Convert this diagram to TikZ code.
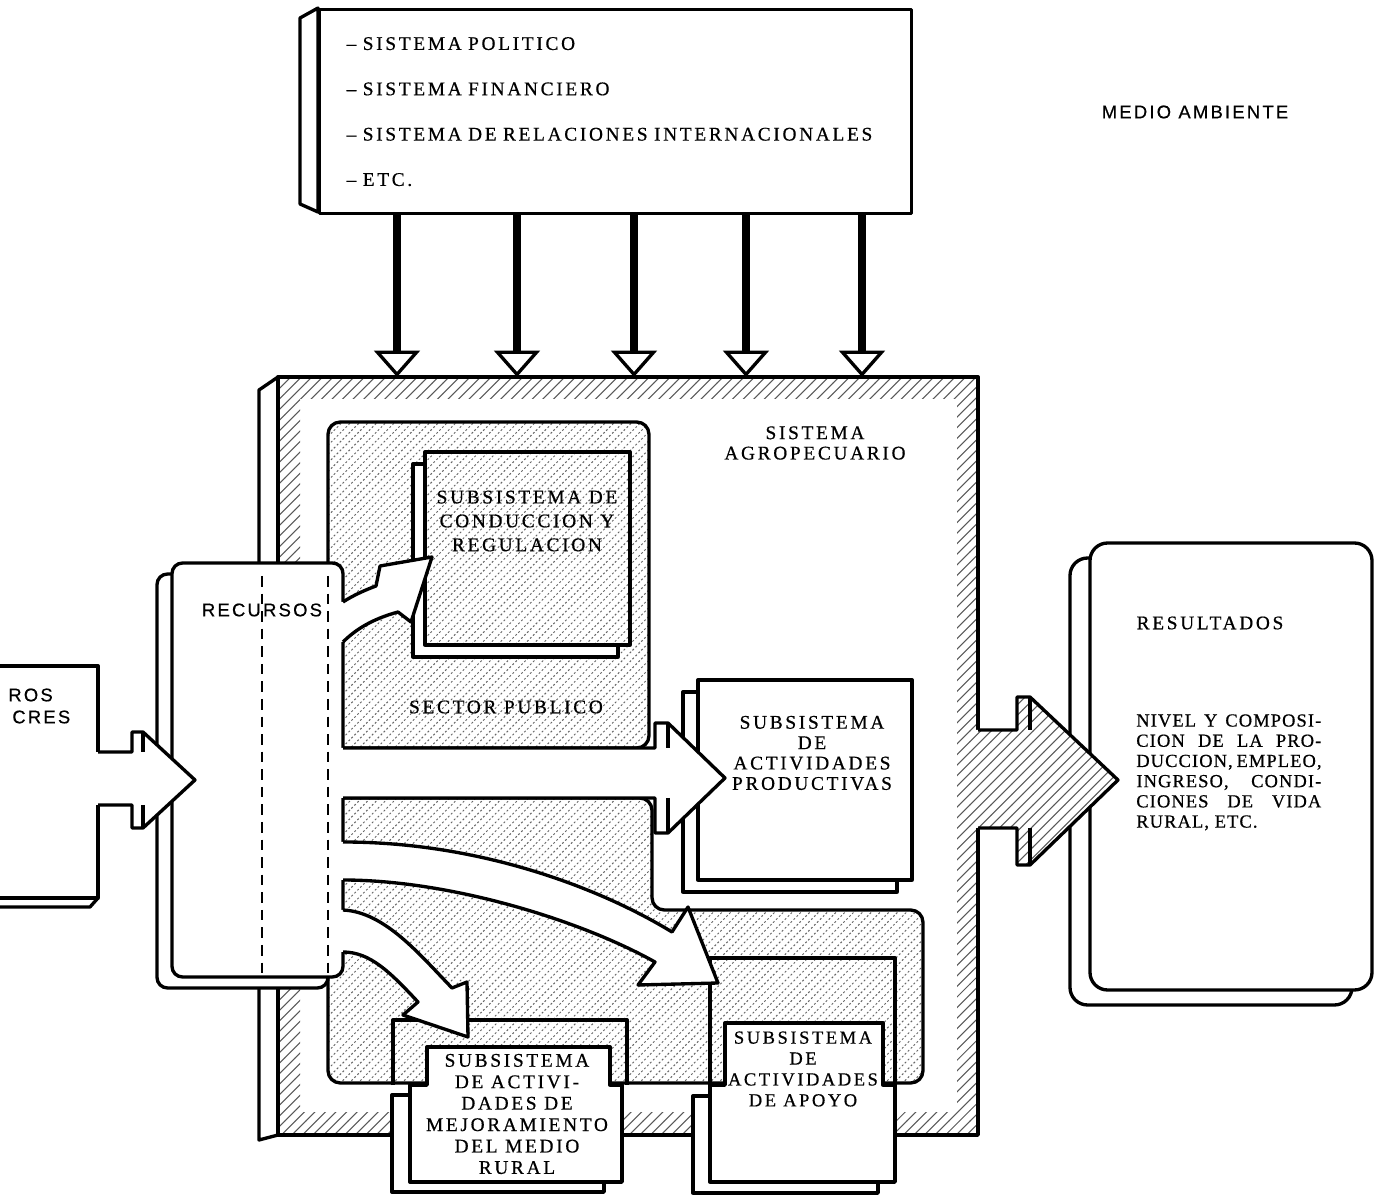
\documentclass[tikz,border=0pt]{standalone}
\usepackage{fontspec}
\setmainfont{Liberation Serif}
\newfontfamily\rotulo{Liberation Serif}[LetterSpace=14, FakeBold=0.6]
\newfontfamily\rotulojusto{Liberation Serif}[LetterSpace=6, FakeBold=0.6]
\newfontfamily\rotulosans{Liberation Sans}[LetterSpace=12, FakeBold=0.4]
\usetikzlibrary{arrows.meta, patterns}

\pgfdeclarepatternformonly{rayado}{\pgfqpoint{-1pt}{-1pt}}{\pgfqpoint{7pt}{7pt}}{\pgfqpoint{6pt}{6pt}}{%
  \pgfsetlinewidth{0.6pt}%
  \pgfpathmoveto{\pgfqpoint{0pt}{0pt}}%
  \pgfpathlineto{\pgfqpoint{6.1pt}{6.1pt}}%
  \pgfusepath{stroke}}
\pgfdeclarepatternformonly{punteado}{\pgfqpoint{-1pt}{-1pt}}{\pgfqpoint{6pt}{6pt}}{\pgfqpoint{5pt}{5pt}}{%
  \pgfsetlinewidth{0.55pt}%
  \pgfsetdash{{1.1pt}{1.3pt}}{0pt}%
  \pgfpathmoveto{\pgfqpoint{0pt}{0pt}}%
  \pgfpathlineto{\pgfqpoint{5.1pt}{5.1pt}}%
  \pgfusepath{stroke}}

\begin{document}
\begin{tikzpicture}[
  x=0.02cm, y=-0.02cm, line join=round,
  font=\rotulo\fontsize{11}{13}\selectfont,
  borde/.style={line width=1.9pt},
  caja/.style={borde, fill=white},
  rayas/.style={preaction={fill=white}, pattern=rayado, pattern color=black!65},
  puntos/.style={preaction={fill=white}, pattern=punteado, pattern color=black!60},
  bajada/.style={line width=4pt, -{Triangle[open, line width=1.9pt, width=26pt, length=15pt]}},
  discont/.style={line width=1.4pt, dash pattern=on 6pt off 4pt},
  letrero/.style={align=center, inner sep=0pt},
  sans/.style={inner sep=0pt, font=\rotulosans\fontsize{10.5}{12}\selectfont},
]
\fill[white] (0,0) rectangle (1387,1195);
\useasboundingbox (0,0) rectangle (1387,1195);

%% Entorno
\draw[caja] (300,18) -- (318,8) -- (318,212) -- (300,204) -- cycle;
\node[draw, caja, anchor=north west, minimum width=11.84cm, minimum height=4.08cm,
      text width=10.76cm, inner xsep=0.54cm, align=left,
      font=\rotulo\fontsize{11}{25.8}\selectfont] (entorno) at (318,8)
  {– SISTEMA POLITICO\\– SISTEMA FINANCIERO\\– SISTEMA DE RELACIONES INTERNACIONALES\\– ETC.};
\node[sans] (medio) at (1195,112) {MEDIO AMBIENTE};

%% Sistema agropecuario (marco)
\draw[caja] (259,390) -- (278,377) -- (278,1135) -- (259,1140) -- cycle;
\fill[pattern=rayado, pattern color=black!65, even odd rule]
  (278,377) rectangle (978,1135) (300,399) rectangle (957,1112);
\draw[borde] (278,377) rectangle (978,1135);
\coordinate (marcono) at (278,377);

%% Flechas del entorno
\foreach \x [count=\i] in {397,517,634,746,862} {
  \coordinate (c\i) at (\x,0);
  \draw[bajada] (entorno.south -| c\i) -- (marcono -| c\i);
}

%% Sector publico
\draw[borde, puntos, rounded corners=7pt] (328,422) rectangle (649,748);
\draw[caja] (413,464) rectangle (618,657);
\draw[borde, puntos] (425,452) rectangle (630,645);
\node[letrero, font=\rotulo\fontsize{11}{13.6}\selectfont] (conduccion) at (527,521)
  {SUBSISTEMA DE\\CONDUCCION Y\\REGULACION};
\node[letrero] (sectorpub) at (506,707) {SECTOR PUBLICO};
\node[letrero, font=\rotulo\fontsize{11}{11.6}\selectfont] (sistema) at (815,443)
  {SISTEMA\\AGROPECUARIO};

%% Region inferior
\draw[borde, puntos, rounded corners=7pt] (328,798) -- (652,798) -- (652,910)
  -- (923,910) -- (923,1083) -- (328,1083) -- cycle;
\draw[borde] (393,1085) -- (393,1020) -- (627,1020) -- (627,1085);
\draw[borde] (710,1085) -- (710,958) -- (895,958) -- (895,1085);

%% Actividades productivas
\draw[caja] (683,692) rectangle (897,892);
\draw[caja] (698,680) rectangle (912,880);
\node[letrero, font=\rotulo\fontsize{11}{11.6}\selectfont] (productivas) at (812,753)
  {SUBSISTEMA\\DE\\ACTIVIDADES\\PRODUCTIVAS};

%% Recursos
\draw[caja, rounded corners=6pt] (157,574) rectangle (328,988);
\draw[caja, rounded corners=6pt] (172,563) rectangle (343,977);

%% Flechas blancas desde recursos
\fill[white] (339,602) -- (343,602) .. controls (352,596) and (365,590) .. (376,586)
  -- (380,566) -- (432,557) -- (411,622) -- (398,612)
  .. controls (380,617) and (360,625) .. (343,642) -- (339,642) -- cycle;
\draw[borde] (343,602) .. controls (352,596) and (365,590) .. (376,586)
  -- (380,566) -- (432,557) -- (411,622) -- (398,612)
  .. controls (380,617) and (360,625) .. (343,642);

\fill[white] (339,748) -- (655,748) -- (655,723) -- (668,723) -- (725,778)
  -- (668,833) -- (655,833) -- (655,798) -- (339,798) -- cycle;
\draw[borde] (343,748) -- (655,748) -- (655,723) -- (668,723) -- (725,778)
  -- (668,833) -- (655,833) -- (655,798) -- (343,798);
\draw[borde] (668,723) -- (668,748) (668,798) -- (668,833);

\fill[white] (339,842) -- (343,842) .. controls (480,842) and (600,888) .. (672,932)
  -- (688,907) -- (718,983) -- (638,985) -- (655,962)
  .. controls (580,920) and (450,880) .. (343,880) -- (339,880) -- cycle;
\draw[borde] (343,842) .. controls (480,842) and (600,888) .. (672,932)
  -- (688,907) -- (718,983) -- (638,985) -- (655,962)
  .. controls (580,920) and (450,880) .. (343,880);

\fill[white] (339,910) -- (343,910) .. controls (385,912) and (420,955) .. (452,988)
  -- (467,982) -- (468,1037) -- (403,1015) -- (418,1002)
  .. controls (390,972) and (370,952) .. (343,952) -- (339,952) -- cycle;
\draw[borde] (343,910) .. controls (385,912) and (420,955) .. (452,988)
  -- (467,982) -- (468,1037) -- (403,1015) -- (418,1002)
  .. controls (390,972) and (370,952) .. (343,952);

%% Mejoramiento del medio rural
\draw[caja] (392,1095) rectangle (604,1192);
\draw[caja] (427,1047) -- (610,1047) -- (610,1085) -- (622,1085) -- (622,1182)
  -- (410,1182) -- (410,1085) -- (427,1085) -- cycle;
\node[letrero, font=\rotulo\fontsize{11}{12.2}\selectfont] (mejoramiento) at (517,1114)
  {SUBSISTEMA\\DE ACTIVI-\\DADES DE\\MEJORAMIENTO\\DEL MEDIO\\RURAL};

%% Actividades de apoyo
\draw[caja] (693,1096) rectangle (878,1193);
\draw[caja] (725,1023) -- (883,1023) -- (883,1085) -- (895,1085) -- (895,1182)
  -- (710,1182) -- (710,1085) -- (725,1085) -- cycle;
\node[letrero, font=\rotulo\fontsize{10.5}{11.9}\selectfont] (apoyo) at (803,1069)
  {SUBSISTEMA\\DE\\ACTIVIDADES\\DE APOYO};

%% Recursos: rotulo y limites
\draw[discont] (262,576) -- (262,975);
\draw[discont] (328,576) -- (328,975);
\node[sans] (recursos) at (262,610) {RECURSOS};

%% Otros sectores
\draw[borde] (-5,666) -- (98,666) -- (98,752);
\draw[borde] (98,805) -- (98,898) -- (-5,898);
\draw[borde] (-5,907) -- (90,907) -- (98,898);
\node[sans, anchor=west] (otros1) at (8,695) {ROS};
\node[sans, anchor=west] (otros2) at (12,717) {CRES};
\draw[caja] (98,752) -- (132,752) -- (132,732) -- (143,732) -- (195,780)
  -- (143,828) -- (132,828) -- (132,805) -- (98,805);
\draw[borde] (143,732) -- (143,752) (143,805) -- (143,828);

%% Resultados
\draw[caja, rounded corners=10pt] (1070,558) rectangle (1352,1005);
\draw[caja, rounded corners=10pt] (1090,543) rectangle (1372,990);
\node[letrero] (resultados) at (1210,623) {RESULTADOS};
\node[anchor=north west, inner sep=0pt, align=left,
      font=\rotulojusto\fontsize{10.5}{11.5}\selectfont] (nivel) at (1136,714)
  {\makebox[3.7cm][s]{NIVEL Y COMPOSI-}\\
   \makebox[3.7cm][s]{CION DE LA PRO-}\\
   \makebox[3.7cm][s]{DUCCION, EMPLEO,}\\
   \makebox[3.7cm][s]{INGRESO, CONDI-}\\
   \makebox[3.7cm][s]{CIONES DE VIDA}\\
   RURAL, ETC.};
\fill[rayas] (975,730) -- (1017,730) -- (1017,697) -- (1030,697) -- (1118,780)
  -- (1030,865) -- (1017,865) -- (1017,828) -- (975,828) -- cycle;
\draw[borde] (978,730) -- (1017,730) -- (1017,697) -- (1030,697) -- (1118,780)
  -- (1030,865) -- (1017,865) -- (1017,828) -- (978,828);
\draw[borde] (1030,697) -- (1030,730) (1030,828) -- (1030,865);

\end{tikzpicture}
\end{document}
